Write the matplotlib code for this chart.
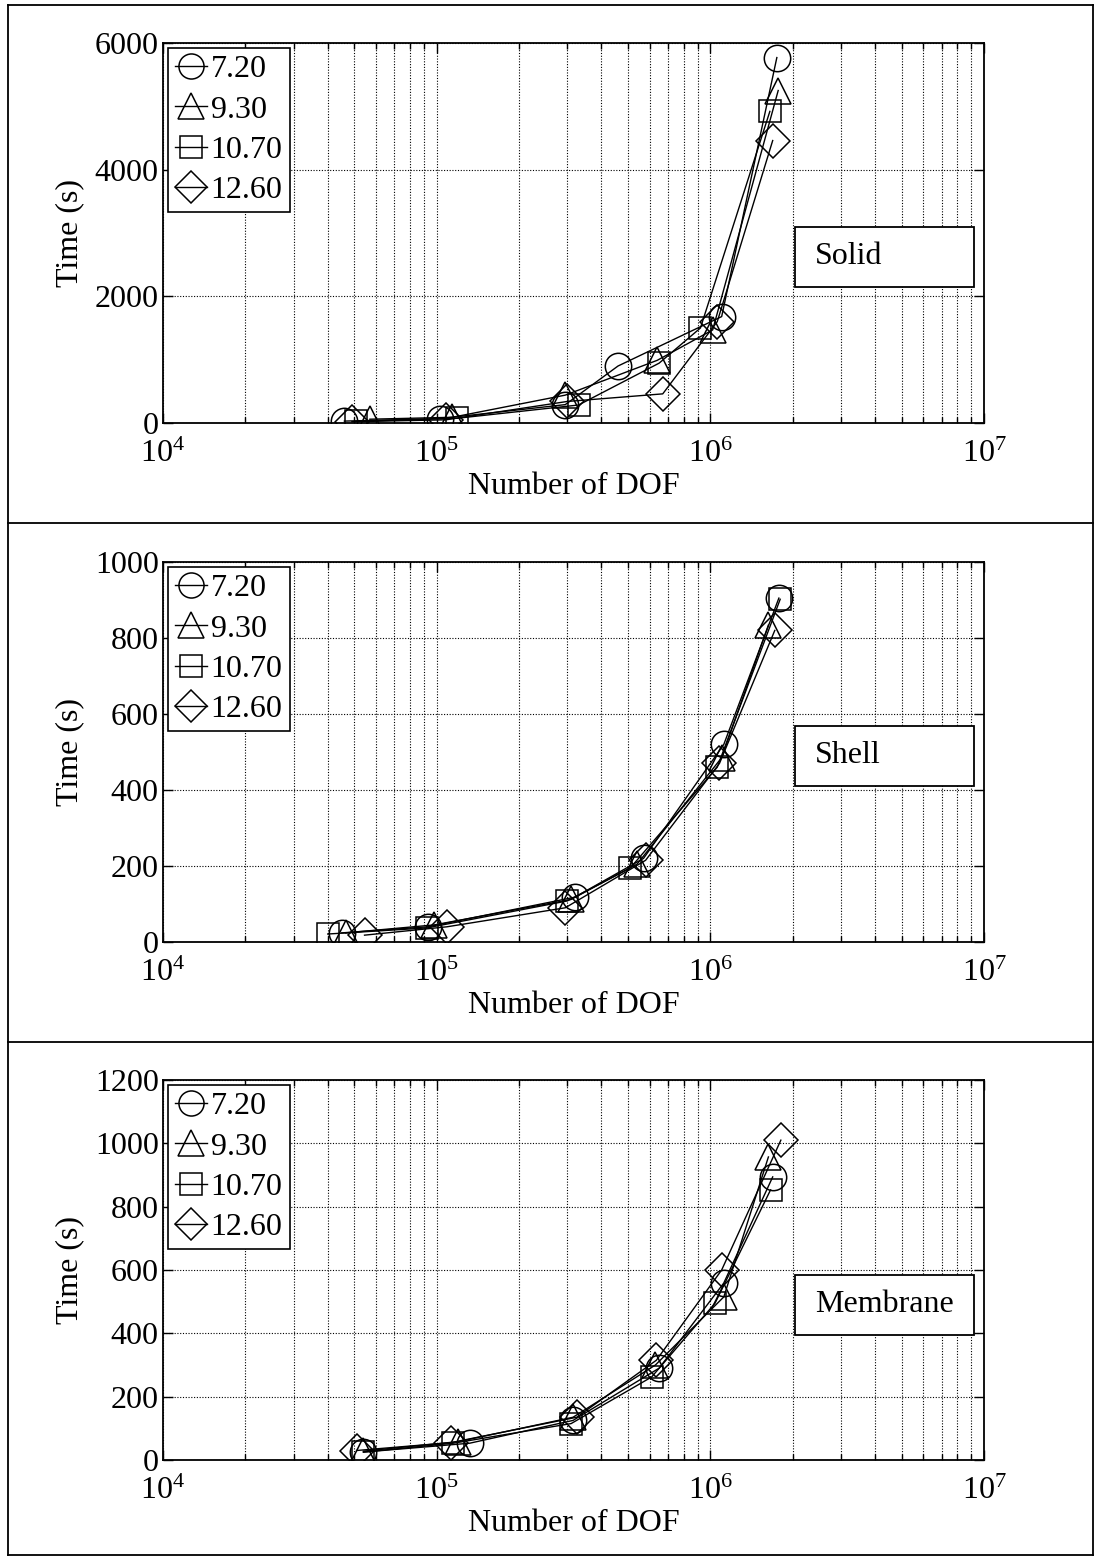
import matplotlib
matplotlib.use("Agg")
import matplotlib.pyplot as plt
from matplotlib.lines import Line2D
from matplotlib.patches import Rectangle
from matplotlib.ticker import LogLocator, LogFormatterMathtext, NullFormatter, FixedLocator

plt.rcParams['font.family'] = ['Liberation Serif', 'DejaVu Serif']
plt.rcParams['mathtext.fontset'] = 'custom'
plt.rcParams['mathtext.rm'] = 'Liberation Serif'
plt.rcParams['mathtext.it'] = 'Liberation Serif:italic'

series_labels = ["7.20", "9.30", "10.70", "12.60"]
series_markers = ["o", "^", "s", "D"]

# Solid
solid_x = [
    [4.6e4, 1.03e5, 2.95e5, 4.6e5, 1.1e6, 1.75e6],
    [5.7e4, 1.14e5, 2.95e5, 6.4e5, 1.02e6, 1.77e6],
    [5.06e4, 1.19e5, 3.3e5, 6.5e5, 9.2e5, 1.65e6],
    [4.9e4, 1.08e5, 3.0e5, 6.7e5, 1.06e6, 1.69e6],
]
solid_y = [
    [30, 70, 290, 900, 1680, 5770],
    [60, 90, 440, 990, 1470, 5250],
    [25, 75, 284, 945, 1500, 4920],
    [20, 50, 340, 460, 1600, 4460],
]

# Shell
shell_x = [
    [4.5e4, 9.3e4, 3.2e5, 5.7e5, 1.12e6, 1.78e6],
    [4.65e4, 9.8e4, 3.1e5, 5.4e5, 1.1e6, 1.63e6],
    [4.0e4, 9.2e4, 3.0e5, 5.1e5, 1.06e6, 1.8e6],
    [5.45e4, 1.09e5, 2.95e5, 5.8e5, 1.08e6, 1.72e6],
]
shell_y = [
    [24, 40, 118, 220, 520, 905],
    [24, 45, 112, 205, 485, 834],
    [21, 37, 108, 195, 460, 902],
    [18, 40, 90, 215, 470, 820],
]

# Membrane
memb_x = [
    [5.4e4, 1.32e5, 3.15e5, 6.5e5, 1.12e6, 1.69e6],
    [5.4e4, 1.2e5, 3.15e5, 6.3e5, 1.12e6, 1.63e6],
    [5.4e4, 1.15e5, 3.1e5, 6.1e5, 1.04e6, 1.66e6],
    [5.1e4, 1.13e5, 3.25e5, 6.35e5, 1.1e6, 1.81e6],
]
memb_y = [
    [25, 53, 125, 290, 559, 894],
    [28, 58, 135, 300, 515, 957],
    [25, 53, 115, 262, 495, 853],
    [30, 55, 135, 315, 600, 1010],
]

panels = [
    ("Solid", solid_x, solid_y, [0, 2000, 4000, 6000], 6000),
    ("Shell", shell_x, shell_y, [0, 200, 400, 600, 800, 1000], 1000),
    ("Membrane", memb_x, memb_y, [0, 200, 400, 600, 800, 1000, 1200], 1200),
]

W, H = 1095, 1558
fig = plt.figure(figsize=(W / 100, H / 100), dpi=100)

axes_tops = [43, 562, 1080]
box_rel = [(0.516, 0.358), (0.568, 0.411), (0.487, 0.329)]
msizes = {"o": 19, "^": 19, "s": 16, "D": 17}
FS = 23

for i, (name, xs, ys, yticks, ymax) in enumerate(panels):
    top = axes_tops[i]
    ax = fig.add_axes([163 / W, 1 - (top + 380) / H, 821 / W, 380 / H])
    for j in range(4):
        m = series_markers[j]
        ax.plot(xs[j], ys[j], color="black", lw=1.0, marker=m,
                markersize=msizes[m], markerfacecolor="none",
                markeredgecolor="black", markeredgewidth=1.1,
                label=series_labels[j])
    ax.set_xscale("log")
    ax.set_xlim(1e4, 1e7)
    ax.set_ylim(0, ymax)
    ax.yaxis.set_major_locator(FixedLocator(yticks))
    ax.xaxis.set_major_locator(LogLocator(base=10, numticks=10))
    ax.xaxis.set_minor_locator(LogLocator(base=10, subs=range(2, 10), numticks=30))
    ax.xaxis.set_major_formatter(LogFormatterMathtext())
    ax.xaxis.set_minor_formatter(NullFormatter())
    ax.tick_params(which="both", direction="in", top=True, right=True,
                   labelsize=FS, width=1.0)
    ax.tick_params(which="major", length=7)
    ax.tick_params(which="minor", length=4)
    ax.tick_params(axis="x", which="major", pad=12)
    ax.tick_params(axis="y", which="major", pad=3)
    ax.grid(True, which="major", axis="both", linestyle=(0, (1, 1.5)),
            color="black", lw=0.8)
    ax.grid(True, which="minor", axis="x", linestyle=(0, (1, 1.5)),
            color="black", lw=0.8)
    for sp in ax.spines.values():
        sp.set_linewidth(1.3)
    ax.set_xlabel("Number of DOF", fontsize=FS, labelpad=2)
    ax.set_ylabel("Time (s)", fontsize=FS, labelpad=8)

    leg = ax.legend(loc="upper left", bbox_to_anchor=(0.006, 0.987),
                    borderaxespad=0, fontsize=FS, fancybox=False,
                    framealpha=1, edgecolor="black", handlelength=1.0,
                    handletextpad=0.12, labelspacing=0.34, borderpad=0.22,
                    markerscale=0.95)
    leg.get_frame().set_linewidth(1.2)

    yt, yb = box_rel[i]
    ax.add_patch(Rectangle((0.770, yb), 0.988 - 0.770, yt - yb,
                           transform=ax.transAxes, facecolor="white",
                           edgecolor="black", lw=1.3, zorder=5))
    ax.text(0.794, (yt + yb) / 2, name, transform=ax.transAxes,
            fontsize=FS, ha="left", va="center", zorder=6)

# outer frame and dividers
def fline(x0, y0, x1, y1, lw=1.3):
    fig.add_artist(Line2D([x0 / W, x1 / W], [1 - y0 / H, 1 - y1 / H],
                          color="black", lw=lw, transform=fig.transFigure))

fline(8, 5, 1093, 5)
fline(8, 1555, 1093, 1555)
fline(8, 5, 8, 1555)
fline(1093, 5, 1093, 1555)
fline(8, 523, 1093, 523)
fline(8, 1042, 1093, 1042)

fig.savefig("out.png", dpi=100)
